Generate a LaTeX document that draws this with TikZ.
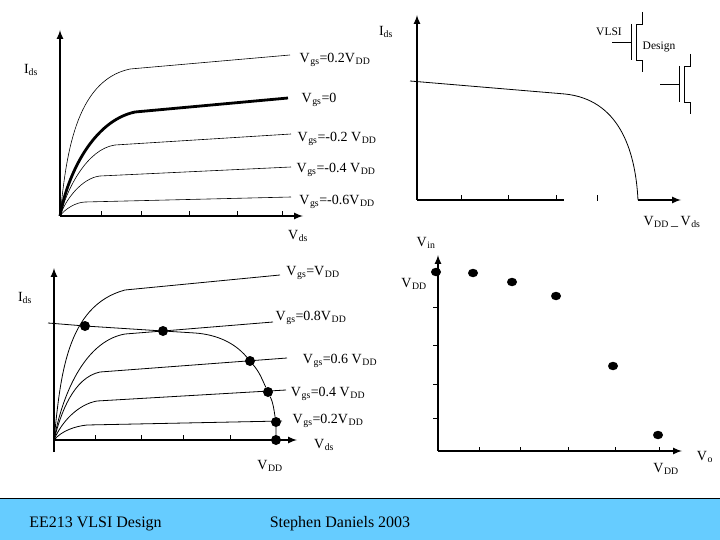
\documentclass[tikz,border=0pt]{standalone}
\usepackage{fontspec}
\setmainfont{Liberation Serif}
\newcommand{\vv}[1]{V\textsubscript{\kern.6pt#1}}
\usetikzlibrary{shapes.geometric}
\definecolor{footblue}{RGB}{102,204,255}
\tikzset{
  lbl/.style={inner sep=0pt,font=\fontsize{14}{16}\selectfont},
  small/.style={inner sep=0pt,font=\fontsize{11.5}{13}\selectfont},
  foot/.style={inner sep=0pt,font=\fontsize{16}{18}\selectfont},
  axis/.style={->,>=latex,line width=2pt},
  curve/.style={line width=.8pt},
  dot/.style={circle,fill=black,inner sep=0pt,minimum size=10pt},
  pt/.style={ellipse,fill=black,inner sep=0pt,minimum width=10pt,minimum height=8.5pt}
}
\begin{document}
\begin{tikzpicture}[x=1pt,y=-1pt]
   \useasboundingbox (0,0) rectangle (720,540);
   % footer
   \draw[fill=footblue,line width=.8pt] (-2,498) rectangle (722,542);
   \node[foot] (f1) at (95.5,524) {EE213 VLSI Design};
   \node[foot] (f2) at (340,524) {Stephen Daniels 2003};

   % upper left
   \coordinate (o1) at (60,216);
   \coordinate (t1) at (60,30);
   \coordinate (r1) at (303,216);
   \draw[axis] (o1) -- (t1);
   \draw[axis] (o1) -- (r1);
   \draw (101,216) -- (101,211);
   \draw (141,216) -- (141,211);
   \draw (189,216) -- (189,211);
   \draw (237,216) -- (237,211);
   \draw (282,216) -- (282,211);
   \coordinate (a1) at (130,69);
   \coordinate (a2) at (290,55);
   \coordinate (b1) at (135,112);
   \coordinate (b2) at (288,98);
   \coordinate (c1) at (115,145);
   \coordinate (c2) at (291,134);
   \coordinate (d1) at (100,176);
   \coordinate (d2) at (291,167);
   \coordinate (e1) at (85,202);
   \coordinate (e2) at (291,197);
   \draw[curve,line width=.6pt] (o1) to[out=84,in=192,looseness=.9] (a1) -- (a2);
   \draw[line width=2.8pt] (o1) to[out=80,in=192,looseness=.85] (b1) -- (b2);
   \draw[curve,line width=.6pt] (o1) to[out=76,in=188,looseness=.8] (c1) -- (c2);
   \draw[curve,line width=.6pt] (o1) to[out=72,in=186,looseness=.8] (d1) -- (d2);
   \draw[curve,line width=.6pt] (o1) to[out=55,in=182,looseness=.8] (e1) -- (e2);
   \node[lbl] (n1) at (386,32) {I\textsubscript{ds}};
   \node[lbl] (n2) at (31,70) {I\textsubscript{ds}};
   \node[lbl] (n3) at (335,60) {\vv{gs}=0.2\vv{DD}};
   \node[lbl] (n4) at (319,100) {\vv{gs}=0};
   \node[lbl] (n5) at (337,139) {\vv{gs}=-0.2 \vv{DD}};
   \node[lbl] (n6) at (336,170) {\vv{gs}=-0.4 \vv{DD}};
   \node[lbl] (n7) at (337,202) {\vv{gs}=-0.6\vv{DD}};
   \node[lbl] (n8) at (298,236) {\vv{ds}};

   % upper right
   \coordinate (o2) at (417,200);
   \coordinate (t2) at (417,15);
   \coordinate (g2) at (564,200);
   \coordinate (k2) at (638,200);
   \coordinate (r2) at (681,200);
   \draw[axis,-] (o2) -- (g2);
   \draw[axis] (o2) -- (t2);
   \draw[axis] (k2) -- (r2);
   \draw (461,200) -- (461,195);
   \draw (508,200) -- (508,195);
   \draw (556,200) -- (556,195);
   \draw (597,201) -- (597,195);
   \coordinate (s2) at (410,81);
   \coordinate (m2) at (565,94);
   \draw[curve] (s2) -- (m2) to[out=-6,in=93,looseness=1.05] (k2);
   \node[small] (n9) at (609,32) {VLSI};
   \node[small] (n10) at (659,47) {Design};
   \node[lbl] (n11) at (672,222) {\vv{DD}\,\_\,\vv{ds}};
   % transistors
   \draw[curve] (612,42) -- (631,42);
   \draw[curve] (631,24) -- (631,60);
   \draw[curve] (642,12) -- (642,24) -- (636,24) -- (636,60) -- (642,60) -- (642,72);
   \draw[curve] (660,84) -- (679,84);
   \draw[curve] (679,66) -- (679,102);
   \draw[curve] (690,54) -- (690,66) -- (684,66) -- (684,102) -- (690,102) -- (690,114);

   % lower left
   \coordinate (o3) at (54,440);
   \coordinate (t3) at (54,268);
   \coordinate (u3) at (54,452);
   \coordinate (r3) at (297,440);
   \draw[axis] (u3) -- (t3);
   \draw[axis] (o3) -- (r3);
   \draw (95,440) -- (95,435);
   \draw (141,440) -- (141,435);
   \draw (183,440) -- (183,435);
   \draw (230,440) -- (230,435);
   \draw (275,440) -- (275,435);
   \node[dot] (p1) at (85,326) {};
   \node[dot] (p2) at (163,331) {};
   \node[dot] (p3) at (250,361) {};
   \node[dot] (p4) at (268,392) {};
   \node[dot] (p5) at (276,422) {};
   \node[dot] (p6) at (276,440) {};
   \coordinate (a3) at (125,290);
   \coordinate (a4) at (280,275);
   \coordinate (b3) at (125,334);
   \coordinate (b4) at (273,322);
   \coordinate (c3) at (100,372);
   \coordinate (c4) at (287,358);
   \coordinate (d3) at (97,401);
   \coordinate (d4) at (286,390);
   \coordinate (e3) at (87,425);
   \coordinate (e4) at (282,421);
   \coordinate (s3) at (48,323);
   \coordinate (m3) at (195,333);
   \draw[curve] (o3) to[out=84,in=195,looseness=.95] (a3) -- (a4);
   \draw[curve] (o3) to[out=80,in=190,looseness=.85] (b3) -- (p2.center) -- (b4);
   \draw[curve] (o3) to[out=76,in=192,looseness=.85] (c3) -- (c4);
   \draw[curve] (o3) to[out=68,in=190,looseness=.85] (d3) -- (d4);
   \draw[curve] (o3) to[out=50,in=186,looseness=.85] (e3) -- (e4);
   \draw[curve] (s3) -- (p1) -- (p2) -- (m3) to[out=-4,in=130,looseness=.9] (p3);
   \draw[curve] (p3) to[out=-50,in=115] (p4);
   \draw[curve] (p4) to[out=-65,in=100] (p5) -- (p6);
   \node[lbl] (n12) at (313,273) {\vv{gs}=\vv{DD}};
   \node[lbl] (n13) at (25,298) {I\textsubscript{ds}};
   \node[lbl] (n14) at (311,318) {\vv{gs}=0.8\vv{DD}};
   \node[lbl] (n15) at (340,361) {\vv{gs}=0.6 \vv{DD}};
   \node[lbl] (n16) at (328,394) {\vv{gs}=0.4 \vv{DD}};
   \node[lbl] (n17) at (328,421) {\vv{gs}=0.2\vv{DD}};
   \node[lbl] (n18) at (324,445) {\vv{ds}};
   \node[lbl] (n19) at (270,466) {\vv{DD}};

   % lower right
   \coordinate (o4) at (438,451);
   \coordinate (t4) at (438,255);
   \coordinate (r4) at (682,451);
   \draw[axis] (o4) -- (t4);
   \draw[axis] (o4) -- (r4);
   \draw (433,307) -- (438,307);
   \draw (433,345) -- (438,345);
   \draw (433,384) -- (438,384);
   \draw (433,418) -- (438,418);
   \draw (479,451) -- (479,447);
   \draw (520,451) -- (520,447);
   \draw (568,451) -- (568,447);
   \draw (615,451) -- (615,447);
   \draw (659,451) -- (659,447);
   \node[pt] (q1) at (436,272) {};
   \node[pt] (q2) at (473,273) {};
   \node[pt] (q3) at (512,282) {};
   \node[pt] (q4) at (556,296) {};
   \node[pt] (q5) at (613,366) {};
   \node[pt] (q6) at (658,435) {};
   \node[lbl] (n20) at (426,243) {\vv{in}};
   \node[lbl] (n21) at (414,284) {\vv{DD}};
   \node[lbl] (n22) at (666,469) {\vv{DD}};
   \node[lbl] (n23) at (705,457) {\vv{o}};
\end{tikzpicture}
\end{document}
